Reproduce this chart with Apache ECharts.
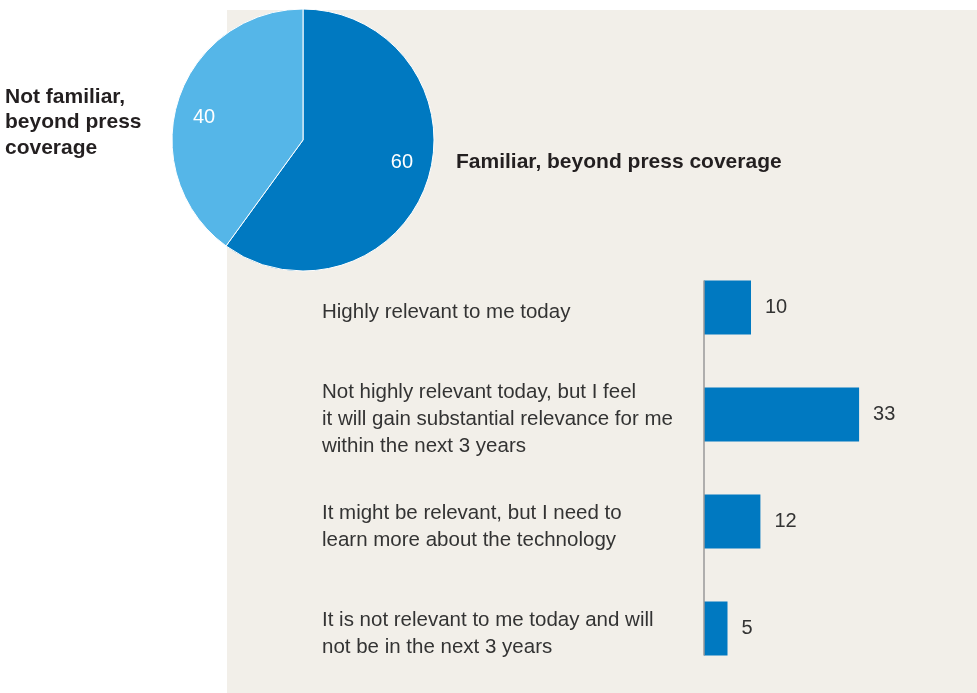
<!DOCTYPE html>
<html lang="en">
<head>
    <meta charset="UTF-8">
    <title>Familiarity and relevance</title>
    <style>
        html, body { margin: 0; padding: 0; background: #fff; }
        #chart { width: 977px; height: 693px; }
    </style>
</head>
<body>
    <div id="chart"></div>
</body>
<script src="https://cdn.jsdelivr.net/npm/echarts@6/dist/echarts.min.js"></script>
<script type="text/javascript">
    // pie: familiarity split
    const pieNames = ['Familiar, beyond press coverage', 'Not familiar, beyond press coverage'];
    const pieValues = [60, 40];
    const pieColors = ['#0079c1', '#55b6e8'];

    // bars: relevance among the familiar group
    const relevanceLabels = [
        'Highly relevant to me today',
        'Not highly relevant today, but I feel\nit will gain substantial relevance for me\nwithin the next 3 years',
        'It might be relevant, but I need to\nlearn more about the technology',
        'It is not relevant to me today and will\nnot be in the next 3 years'
    ];
    const relevanceValues = [10, 33, 12, 5];

    const font = '"Liberation Sans", Arial, Helvetica, sans-serif';
    const barW = 54;

    let chart = echarts.init(document.getElementById('chart'));

    let option = {
        backgroundColor: '#fff',
        animation: false,
        graphic: [{
            type: 'rect',
            z: -10,
            shape: { x: 227, y: 10, width: 750, height: 683 },
            style: { fill: '#f2efe9' },
            silent: true
        }, {
            type: 'text',
            left: 5,
            top: 84,
            style: {
                text: 'Not familiar,\nbeyond press\ncoverage',
                font: 'bold 21px ' + font,
                lineHeight: 25.5,
                fill: '#231f20'
            }
        }, {
            type: 'text',
            left: 456,
            top: 152,
            style: {
                text: 'Familiar, beyond press coverage',
                font: 'bold 21px ' + font,
                fill: '#231f20'
            }
        }],
        grid: {
            left: 704,
            top: 254,
            width: 235,
            height: 428
        },
        xAxis: {
            type: 'value',
            min: 0,
            max: 50,
            show: false
        },
        yAxis: {
            type: 'category',
            inverse: true,
            data: relevanceLabels,
            axisLine: { show: false },
            axisTick: { show: false },
            axisLabel: {
                align: 'left',
                margin: 382,
                // small empty first line nudges the block a few px down
                formatter: (v) => '{s| }\n' + v.split('\n').map((l) => '{t|' + l + '}').join('\n'),
                rich: {
                    s: { fontSize: 1, lineHeight: 10 },
                    t: {
                        fontFamily: font,
                        fontSize: 20.5,
                        lineHeight: 27,
                        color: '#333'
                    }
                }
            }
        },
        series: [{
            type: 'pie',
            center: [303, 140],
            radius: [0, 131],
            startAngle: 90,
            clockwise: true,
            silent: true,
            data: pieNames.map((n, i) => ({ name: n, value: pieValues[i] })),
            itemStyle: {
                color: (p) => pieColors[p.dataIndex],
                borderColor: '#fff',
                borderWidth: 1
            },
            label: { show: false },
            labelLine: { show: false }
        }, {
            // transparent ring only to place the slice numbers further out
            type: 'pie',
            center: [303, 140],
            radius: [66, 131],
            startAngle: 95,
            clockwise: true,
            silent: true,
            data: pieNames.map((n, i) => ({ name: n, value: pieValues[i] })),
            itemStyle: { color: 'rgba(0,0,0,0)' },
            label: {
                show: true,
                position: 'inside',
                formatter: '{c}',
                color: '#fff',
                fontFamily: font,
                fontSize: 20
            },
            labelLine: { show: false }
        }, {
            type: 'bar',
            data: relevanceValues,
            barWidth: barW,
            silent: true,
            itemStyle: { color: '#0079c1' },
            label: {
                show: true,
                position: 'right',
                distance: 14,
                fontFamily: font,
                fontSize: 20,
                color: '#333'
            }
        }]
    };

    chart.setOption(option);

    // vertical baseline from top of first bar to bottom of last bar
    let p0 = chart.convertToPixel({ gridIndex: 0 }, [0, 0]);
    let p1 = chart.convertToPixel({ gridIndex: 0 }, [0, relevanceValues.length - 1]);
    option.graphic.push({
        type: 'line',
        z: 10,
        shape: { x1: p0[0], y1: p0[1] - barW / 2, x2: p1[0], y2: p1[1] + barW / 2 },
        style: { stroke: '#999', lineWidth: 1.5 },
        silent: true
    });
    chart.setOption({ graphic: option.graphic });
</script>
</html>
